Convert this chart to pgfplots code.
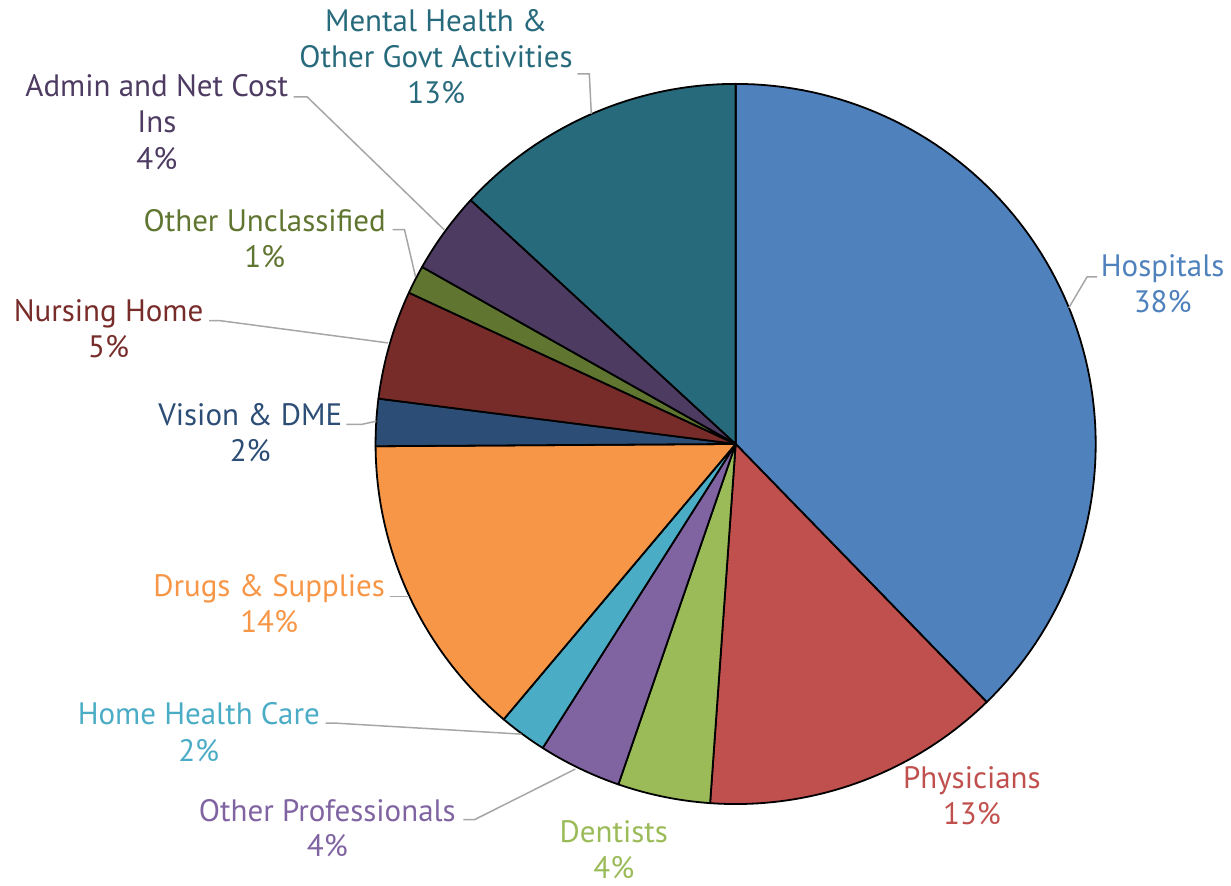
\documentclass[border=0pt]{standalone}
\usepackage{pgfplots}
\pgfplotsset{compat=1.18}
\usepackage{pgfplotstable}
\usepackage{fontspec}
\setmainfont{PT Sans}
\definecolor{cHosp}{HTML}{4F81BD}
\definecolor{cPhys}{HTML}{C0504D}
\definecolor{cDent}{HTML}{9BBB59}
\definecolor{cOPro}{HTML}{8064A2}
\definecolor{cHome}{HTML}{4BACC6}
\definecolor{cDrug}{HTML}{F79646}
\definecolor{cVisi}{HTML}{2C4D75}
\definecolor{cNurs}{HTML}{772C2A}
\definecolor{cOUnc}{HTML}{5F7530}
\definecolor{cAdmi}{HTML}{4D3B62}
\definecolor{cMent}{HTML}{276A7C}
\definecolor{leader}{HTML}{A6A6A6}
\tikzset{lab/.style={anchor=base, font=\fontsize{15.5pt}{18pt}\selectfont}}
% share of spending (percent), clockwise from 12 o'clock
\pgfplotstableread{
name value color
Hospitals 37.72 cHosp
Physicians 13.41 cPhys
Dentists 4.15 cDent
OtherProfessionals 3.72 cOPro
HomeHealthCare 2.14 cHome
DrugsSupplies 13.76 cDrug
VisionDME 2.11 cVisi
NursingHome 4.89 cNurs
OtherUnclassified 1.28 cOUnc
AdminNetCostIns 3.66 cAdmi
MentalHealthGovt 13.16 cMent
}\piedata
\def\cx{736.5}
\def\cy{438.5}
\def\R{360.5}
\begin{document}
\begin{tikzpicture}
\begin{axis}[
  x=0.5pt, y=0.5pt,
  xmin=0, xmax=1231, ymin=0, ymax=883,
  hide axis, clip=false,
]
\path (rel axis cs:0,0) rectangle (rel axis cs:1,1);
\pgfmathsetmacro\cum{0}
\pgfplotsforeachungrouped \i in {0,...,10}{%
  \pgfplotstablegetelem{\i}{value}\of\piedata \let\pval\pgfplotsretval
  \pgfplotstablegetelem{\i}{color}\of\piedata \let\pcol\pgfplotsretval
  \pgfmathsetmacro\pa{\cum*3.6}%
  \pgfmathsetmacro\cum{\cum+\pval}%
  \pgfmathsetmacro\pb{\cum*3.6}%
  \edef\temp{\noexpand\addplot[fill=\pcol, draw=black, line width=0.9pt, line join=round, domain=\pa:\pb, samples=90] ({\cx+\R*sin(x)},{\cy+\R*cos(x)}) -- (axis cs:\cx,\cy) -- cycle;}%
  \temp
}
% leader lines
\addplot[leader, line width=0.75pt] coordinates {(578,809) (590,809) (592,769)};
\addplot[leader, line width=0.75pt] coordinates {(294,786) (307.5,786) (444.7,653)};
\addplot[leader, line width=0.75pt] coordinates {(393,653) (405,653) (416,606)};
\addplot[leader, line width=0.75pt] coordinates {(209.3,562) (220,562) (388.3,539.7)};
\addplot[leader, line width=0.75pt] coordinates {(346.7,458) (361.7,458) (376.7,461.3)};
\addplot[leader, line width=0.75pt] coordinates {(390,286) (409,286)};
\addplot[leader, line width=0.75pt] coordinates {(326,159) (336,159) (522,148)};
\addplot[leader, line width=0.75pt] coordinates {(464,62.3) (475,62.3) (576,113)};
\addplot[leader, line width=0.75pt] coordinates {(1098.3,605.7) (1088.3,605.7) (1070,574.7)};
% labels
\node[lab, text=cMent] at (axis cs:436.6,851) {Mental Health \&};
\node[lab, text=cMent] at (axis cs:436.6,815) {Other Govt Activities};
\node[lab, text=cMent] at (axis cs:436.6,779) {13\%};
\node[lab, text=cAdmi] at (axis cs:157,786) {Admin and Net Cost};
\node[lab, text=cAdmi] at (axis cs:157,750) {Ins};
\node[lab, text=cAdmi] at (axis cs:157,713) {4\%};
\node[lab, text=cOUnc] at (axis cs:265,651) {Other Unclassified};
\node[lab, text=cOUnc] at (axis cs:265,615) {1\%};
\node[lab, text=cNurs] at (axis cs:108.7,561) {Nursing Home};
\node[lab, text=cNurs] at (axis cs:108.7,525) {5\%};
\node[lab, text=cVisi] at (axis cs:250.5,457) {Vision \& DME};
\node[lab, text=cVisi] at (axis cs:250.5,421) {2\%};
\node[lab, text=cDrug] at (axis cs:269.5,286) {Drugs \& Supplies};
\node[lab, text=cDrug] at (axis cs:269.5,250) {14\%};
\node[lab, text=cHome] at (axis cs:199,158) {Home Health Care};
\node[lab, text=cHome] at (axis cs:199,121) {2\%};
\node[lab, text=cOPro] at (axis cs:327.7,61) {Other Professionals};
\node[lab, text=cOPro] at (axis cs:327.7,25) {4\%};
\node[lab, text=cDent] at (axis cs:614.5,40) {Dentists};
\node[lab, text=cDent] at (axis cs:614.5,3) {4\%};
\node[lab, text=cHosp] at (axis cs:1164,606) {Hospitals};
\node[lab, text=cHosp] at (axis cs:1164,570) {38\%};
\node[lab, text=cPhys] at (axis cs:973,94) {Physicians};
\node[lab, text=cPhys] at (axis cs:973,58) {13\%};
\end{axis}
\end{tikzpicture}
\end{document}
